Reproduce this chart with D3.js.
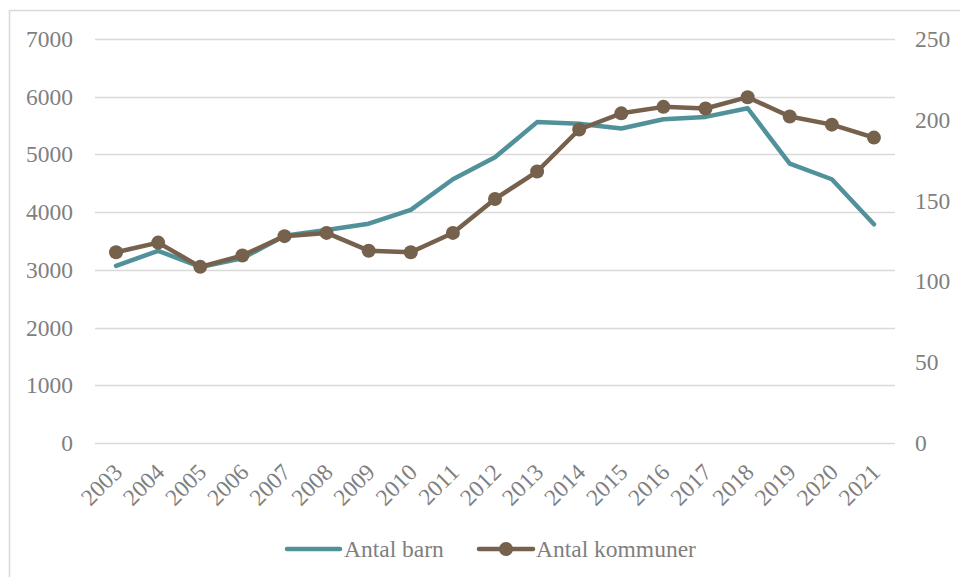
<!DOCTYPE html>
<html>
<head>
<meta charset="utf-8">
<script src="https://cdn.jsdelivr.net/npm/d3@7"></script>
<style>
  body { margin: 0; background: #fff; }
  svg text { font-family: "Liberation Serif", "DejaVu Serif", serif !important; fill: #7f7f7f; }
</style>
</head>
<body>
<div id="chart"></div>
<script>
const years = ["2003", "2004", "2005", "2006", "2007", "2008", "2009", "2010", "2011", "2012",
  "2013", "2014", "2015", "2016", "2017", "2018", "2019", "2020", "2021"];
const antalBarn = [3070, 3330, 3050, 3200, 3590, 3690, 3800, 4040, 4570, 4950,
  5560, 5530, 5450, 5610, 5650, 5800, 4840, 4570, 3790];
const antalKommuner = [118, 124, 109, 116, 128, 130, 119, 118, 130, 151,
  168, 194, 204, 208, 207, 214, 202, 197, 189];
const leftTicks = [0, 1000, 2000, 3000, 4000, 5000, 6000, 7000];
const rightTicks = [0, 50, 100, 150, 200, 250];

const width = 960, height = 577;
const margin = { top: 39, right: 65, bottom: 134, left: 95 };
const fontSize = "23.5px";
const serif = "'Liberation Serif', 'DejaVu Serif', serif";

const svg = d3.select("#chart").append("svg")
    .attr("width", width)
    .attr("height", height)
    .style("font-family", serif);

// outer chart border (only top/left visible in the picture)
svg.append("rect")
    .attr("x", 9.5).attr("y", 10.5)
    .attr("width", width + 20).attr("height", height + 20)
    .attr("fill", "none")
    .attr("stroke", "#d9d9d9")
    .attr("stroke-width", 1.5);

const x = d3.scaleBand()
    .domain(years)
    .range([margin.left, width - margin.right]);

const yLeft = d3.scaleLinear()
    .domain([0, 7000])
    .range([height - margin.bottom, margin.top]);

const yRight = d3.scaleLinear()
    .domain([0, 250])
    .range([height - margin.bottom, margin.top]);

// gridlines
svg.append("g")
    .selectAll("line")
    .data(leftTicks)
    .enter().append("line")
    .attr("x1", margin.left)
    .attr("x2", width - margin.right)
    .attr("y1", d => Math.round(yLeft(d)) + 0.5)
    .attr("y2", d => Math.round(yLeft(d)) + 0.5)
    .attr("stroke", "#d9d9d9")
    .attr("stroke-width", 1.5);

// left axis
const gl = svg.append("g")
    .attr("transform", "translate(" + (margin.left - 22) + ",0)")
    .call(d3.axisLeft(yLeft).tickValues(leftTicks).tickFormat(d3.format("d")).tickSize(0).tickPadding(0));
gl.attr("font-family", null);
gl.select(".domain").remove();
gl.selectAll("text").style("font-size", fontSize).style("font-family", serif).attr("fill", "#7f7f7f");

// right axis
const gr = svg.append("g")
    .attr("transform", "translate(" + (width - margin.right + 20) + ",0)")
    .call(d3.axisRight(yRight).tickValues(rightTicks).tickSize(0).tickPadding(0));
gr.attr("font-family", null);
gr.select(".domain").remove();
gr.selectAll("text").style("font-size", fontSize).style("font-family", serif).attr("fill", "#7f7f7f");

// x axis labels, rotated
const gx = svg.append("g")
    .attr("transform", "translate(0," + (height - margin.bottom) + ")")
    .call(d3.axisBottom(x).tickSize(0).tickPadding(0));
gx.attr("font-family", null);
gx.select(".domain").remove();
gx.selectAll("text")
    .style("font-size", fontSize)
    .style("font-family", serif)
    .attr("fill", "#7f7f7f")
    .attr("text-anchor", "end")
    .attr("y", 0)
    .attr("dy", 0)
    .attr("dominant-baseline", "central")
    .attr("transform", "translate(2,25) rotate(-45)");

const cx = d => x(d) + x.bandwidth() / 2;

const lineBarn = d3.line()
    .x((d, i) => cx(years[i]))
    .y(d => yLeft(d));

const lineKom = d3.line()
    .x((d, i) => cx(years[i]))
    .y(d => yRight(d));

svg.append("path")
    .datum(antalBarn)
    .attr("d", lineBarn)
    .attr("fill", "none")
    .attr("stroke", "#51919a")
    .attr("stroke-width", 4.5)
    .attr("stroke-linecap", "round")
    .attr("stroke-linejoin", "round");

svg.append("path")
    .datum(antalKommuner)
    .attr("d", lineKom)
    .attr("fill", "none")
    .attr("stroke", "#76614c")
    .attr("stroke-width", 4.5)
    .attr("stroke-linejoin", "round");

svg.append("g")
    .selectAll("circle")
    .data(antalKommuner)
    .enter().append("circle")
    .attr("cx", (d, i) => cx(years[i]))
    .attr("cy", d => yRight(d))
    .attr("r", 7)
    .attr("fill", "#76614c");

// legend
const leg = svg.append("g").attr("transform", "translate(0,549)");
leg.append("line")
    .attr("x1", 287).attr("x2", 340)
    .attr("stroke", "#51919a").attr("stroke-width", 4.5)
    .attr("stroke-linecap", "round");
leg.append("text")
    .attr("x", 344).attr("y", 8)
    .style("font-size", fontSize)
    .style("font-family", serif)
    .text("Antal barn");
leg.append("line")
    .attr("x1", 479).attr("x2", 533)
    .attr("stroke", "#76614c").attr("stroke-width", 4.5)
    .attr("stroke-linecap", "round");
leg.append("circle")
    .attr("cx", 506).attr("cy", 0).attr("r", 7)
    .attr("fill", "#76614c");
leg.append("text")
    .attr("x", 536).attr("y", 8)
    .style("font-size", fontSize)
    .style("font-family", serif)
    .text("Antal kommuner");
</script>
</body>
</html>
